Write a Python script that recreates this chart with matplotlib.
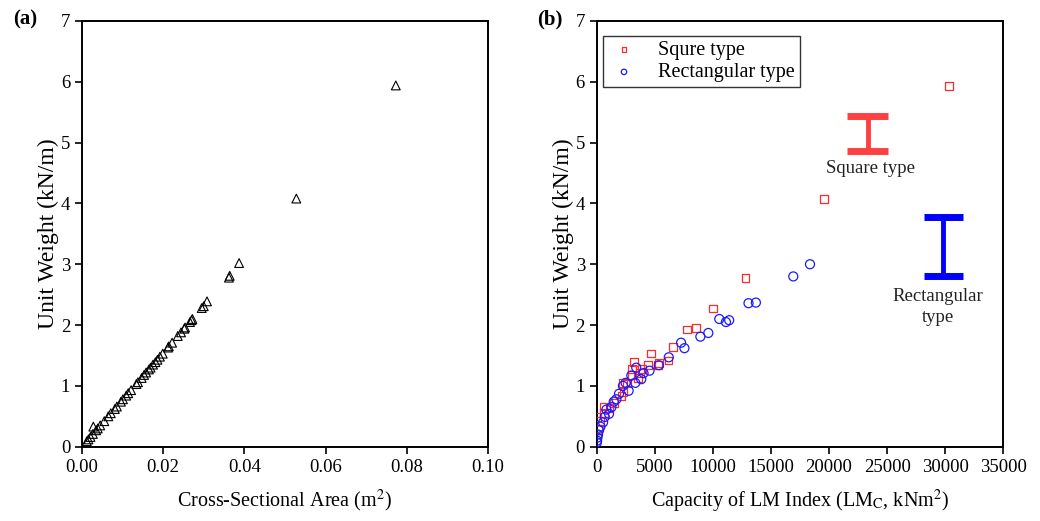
import matplotlib
matplotlib.use("Agg")
import matplotlib.pyplot as plt

plt.rcParams["font.family"] = ["Liberation Serif", "DejaVu Serif"]
plt.rcParams["mathtext.fontset"] = "stix"

# (a) cross-sectional area vs unit weight (all sections)
area_a = [0.0773, 0.0528, 0.0387, 0.0364, 0.0362, 0.0308, 0.0300, 0.0295, 0.0272,
          0.0270, 0.0266, 0.0254, 0.0252, 0.0244, 0.0236, 0.0222, 0.0214, 0.0212,
          0.0199, 0.0192, 0.0186, 0.0181, 0.0175, 0.0169, 0.0165, 0.0158, 0.0153,
          0.0147, 0.0138, 0.0134, 0.0121, 0.0114, 0.0109, 0.0101, 0.0096, 0.0086,
          0.0081, 0.0071, 0.0065, 0.0055, 0.0045, 0.0039, 0.0035, 0.0028, 0.0027,
          0.0021, 0.0016, 0.0012]
weight_a = [5.94, 4.08, 3.02, 2.81, 2.78, 2.39, 2.31, 2.28, 2.10,
            2.08, 2.05, 1.96, 1.94, 1.88, 1.82, 1.71, 1.65, 1.63,
            1.53, 1.48, 1.43, 1.39, 1.35, 1.30, 1.27, 1.22, 1.18,
            1.13, 1.06, 1.03, 0.93, 0.88, 0.84, 0.78, 0.74, 0.66,
            0.62, 0.55, 0.50, 0.42, 0.35, 0.30, 0.27, 0.33, 0.21,
            0.16, 0.12, 0.09]

# (b) LM capacity vs unit weight
sq_lm = [30345, 19590, 12790, 10030, 8550, 7745, 6545, 6175, 5345, 5280, 4690,
         4400, 3890, 3725, 3540, 3200, 3030, 3010, 2580, 2290, 2255, 2115, 1500,
         1100, 600, 570, 300, 150, 50]
sq_w = [5.93, 4.07, 2.77, 2.27, 1.95, 1.93, 1.64, 1.42, 1.38, 1.34, 1.53,
        1.34, 1.28, 1.21, 1.13, 1.39, 1.28, 1.18, 1.04, 0.90, 1.05, 0.83, 0.72,
        0.64, 0.55, 0.66, 0.42, 0.30, 0.49]

rect_lm = [18360, 16920, 13700, 13065, 11400, 11120, 10550, 9605, 8920, 7260,
           7550, 6200, 5345, 4545, 4030, 3830, 3400, 3315, 2975, 2745, 2490,
           2255, 1915, 1690, 1460, 1260, 1055, 830, 690, 545, 320, 200, 110, 60,
           30, 15]
rect_w = [3.00, 2.80, 2.37, 2.36, 2.08, 2.05, 2.10, 1.87, 1.81, 1.71,
          1.62, 1.47, 1.34, 1.25, 1.21, 1.11, 1.30, 1.05, 1.17, 0.92, 1.05,
          1.00, 0.87, 0.78, 0.74, 0.65, 0.54, 0.61, 0.49, 0.40, 0.33, 0.27, 0.20, 0.15,
          0.10, 0.07]

fig = plt.figure(figsize=(10.4, 5.21), dpi=100)
ax1 = fig.add_axes([0.0788, 0.1426, 0.3904, 0.8171])
ax2 = fig.add_axes([0.5738, 0.1426, 0.3909, 0.8171])

for ax in (ax1, ax2):
    for sp in ax.spines.values():
        sp.set_linewidth(1.4)
    ax.tick_params(direction="out", length=5, width=1.2, labelsize=13.5,
                   top=False, right=False)
    ax.set_ylim(0, 7)
    ax.set_yticks(range(0, 8))
    ax.set_ylabel("Unit Weight (kN/m)", fontsize=17, labelpad=1)

ax1.scatter(area_a, weight_a, marker="^", s=40, facecolors="none",
            edgecolors="black", linewidths=0.8, zorder=3)
ax1.set_xlim(0, 0.10)
ax1.set_xticks([0.00, 0.02, 0.04, 0.06, 0.08, 0.10])
ax1.set_xticklabels(["0.00", "0.02", "0.04", "0.06", "0.08", "0.10"])
ax1.set_xlabel("Cross-Sectional Area (m$^2$)", fontsize=14.5, labelpad=9)

ax2.scatter(sq_lm, sq_w, marker="s", s=30, facecolors="none",
            edgecolors="#ff2a2a", linewidths=0.9, label="Squre type", zorder=3)
ax2.scatter(rect_lm, rect_w, marker="o", s=42, facecolors="none",
            edgecolors="#1a1aff", linewidths=0.9, label="Rectangular type", zorder=3)
ax2.set_xlim(0, 35000)
ax2.set_xticks(range(0, 35001, 5000))
ax2.set_xlabel("Capacity of LM Index (LM$_\\mathrm{C}$, kNm$^2$)", fontsize=14.5, labelpad=9)

leg = ax2.legend(loc="upper left", fontsize=14.5, frameon=True, fancybox=False,
                 edgecolor="black", markerscale=0.6, handletextpad=0.9,
                 handlelength=1.6, borderpad=0.25, labelspacing=0.15,
                 borderaxespad=0, bbox_to_anchor=(0.015, 0.965))
leg.get_frame().set_linewidth(1.0)

# I-beam symbols
def ibeam(ax, xc, half, ytop, ybot, color):
    ax.plot([xc - half, xc + half], [ytop, ytop], color=color, lw=5, solid_capstyle="butt")
    ax.plot([xc - half, xc + half], [ybot, ybot], color=color, lw=5, solid_capstyle="butt")
    ax.plot([xc, xc], [ytop, ybot], color=color, lw=3.5, solid_capstyle="butt")

ibeam(ax2, 23350, 1765, 5.43, 4.86, "#ff4040")
ibeam(ax2, 29850, 1680, 3.77, 2.81, "#0000ff")
ax2.text(23600, 4.58, "Square type", ha="center", va="center", fontsize=13.5, color="#222222")
ax2.text(29350, 2.30, "Rectangular\ntype", ha="center", va="center", fontsize=13.5,
         color="#222222", linespacing=1.3)

fig.text(0.024, 0.962, "(a)", fontsize=15, fontweight="bold", ha="center", va="center")
fig.text(0.529, 0.962, "(b)", fontsize=15, fontweight="bold", ha="center", va="center")

fig.savefig("out.png", dpi=100)
